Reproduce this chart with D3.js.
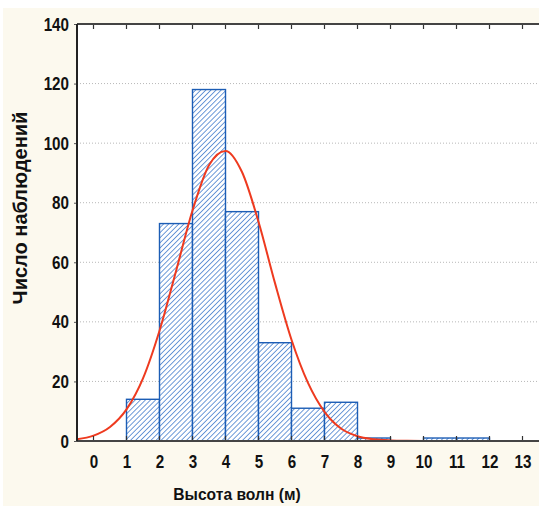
<!DOCTYPE html>
<html>
<head>
<meta charset="utf-8">
<script src="https://cdn.jsdelivr.net/npm/d3@7"></script>
<style>
  body { margin: 0; background: #fff; }
  text { font-family: "Liberation Sans", Arial, sans-serif; font-weight: bold; fill: #111; }
  .tick text { font-family: "Liberation Sans", Arial, sans-serif; font-size: 19px; }
</style>
</head>
<body>
<svg id="chart" width="539" height="506"></svg>
<script>
// bins (lower edge, metres) and counts
var binStart = [1, 2, 3, 4, 5, 6, 7, 8, 9, 10, 11, 12];
var counts   = [14, 73, 118, 77, 33, 11, 13, 1, 0, 1, 1, 0];

// fitted normal curve
var curveX = [-0.5, 0, 0.5, 1, 1.5, 2, 2.5, 3, 3.5, 4, 4.5, 5, 5.5, 6, 6.5, 7, 7.5, 8, 8.5, 9, 9.5, 10, 11, 12, 13, 13.5];
var curveY = [0.6, 1.8, 4.7, 10.6, 21, 37, 57, 77.4, 92.6, 97.4, 90.3, 73.6, 53, 34, 19.5, 9.8, 4.2, 1.6, 0.6, 0.2, 0.05, 0, 0, 0, 0, 0];

var xTicks = [0, 1, 2, 3, 4, 5, 6, 7, 8, 9, 10, 11, 12, 13];
var yTicks = [0, 20, 40, 60, 80, 100, 120, 140];

var svg = d3.select("#chart");

var pLeft = 77, pRight = 539, pTop = 24, pBottom = 441;

var x = d3.scaleLinear().domain([-0.5, 13.5]).range([pLeft, pRight]);
var y = d3.scaleLinear().domain([0, 140]).range([pBottom, pTop]);

// backgrounds
svg.append("rect").attr("x", 3).attr("y", 8).attr("width", 536).attr("height", 498).attr("fill", "#fcf9ee");
svg.append("rect").attr("x", pLeft).attr("y", pTop).attr("width", pRight - pLeft).attr("height", pBottom - pTop).attr("fill", "#fff");

// hatch pattern
var defs = svg.append("defs");
var pat = defs.append("pattern")
    .attr("id", "hatch")
    .attr("patternUnits", "userSpaceOnUse")
    .attr("width", 3.6).attr("height", 3.6)
    .attr("patternTransform", "rotate(45)");
pat.append("rect").attr("width", 3.6).attr("height", 3.6).attr("fill", "#fff");
pat.append("line").attr("x1", 0).attr("y1", 0).attr("x2", 0).attr("y2", 3.6)
    .attr("stroke", "#4a82cf").attr("stroke-width", 1.6);

// grid lines
svg.append("g").selectAll("line")
    .data(yTicks.filter(function(d) { return d > 0 && d < 140; }))
    .enter().append("line")
    .attr("x1", pLeft).attr("x2", pRight)
    .attr("y1", function(d) { return y(d); })
    .attr("y2", function(d) { return y(d); })
    .attr("stroke", "#b8b8b8")
    .attr("stroke-dasharray", "1,2");

// bars
svg.append("g").selectAll("rect")
    .data(binStart.map(function(s, i) { return { s: s, v: counts[i] }; }).filter(function(d) { return d.v > 0; }))
    .enter().append("rect")
    .attr("x", function(d) { return x(d.s); })
    .attr("y", function(d) { return y(d.v); })
    .attr("width", function(d) { return x(d.s + 1) - x(d.s); })
    .attr("height", function(d) { return y(0) - y(d.v); })
    .attr("fill", "url(#hatch)")
    .attr("stroke", "#1c5db5")
    .attr("stroke-width", 1.4);

// normal curve
var line = d3.line()
    .x(function(d) { return x(d[0]); })
    .y(function(d) { return y(d[1]); })
    .curve(d3.curveMonotoneX);
svg.append("path")
    .datum(curveX.map(function(v, i) { return [v, curveY[i]]; }))
    .attr("d", line)
    .attr("fill", "none")
    .attr("stroke", "#ee3a1f")
    .attr("stroke-width", 2);

// axes
var xAxis = svg.append("g").attr("transform", "translate(0," + pBottom + ")")
    .call(d3.axisBottom(x).tickValues(xTicks).tickSize(0).tickPadding(14).tickFormat(d3.format("d")));
xAxis.select(".domain").remove();
xAxis.selectAll(".tick text").attr("transform", "scale(0.8,1)");

var yAxis = svg.append("g").attr("transform", "translate(" + pLeft + ",0)")
    .call(d3.axisLeft(y).tickValues(yTicks).tickSize(3).tickPadding(5));
yAxis.select(".domain").remove();
yAxis.selectAll(".tick line").attr("stroke", "#555");
yAxis.selectAll(".tick text").attr("x", -10).attr("transform", "scale(0.8,1)");

// inner ticks at bottom and top
svg.append("g").selectAll("line")
    .data(xTicks)
    .enter().append("line")
    .attr("x1", function(d) { return x(d); }).attr("x2", function(d) { return x(d); })
    .attr("y1", pBottom).attr("y2", pBottom - 5)
    .attr("stroke", "#333").attr("stroke-width", 1.2);
svg.append("g").selectAll("line")
    .data(xTicks)
    .enter().append("line")
    .attr("x1", function(d) { return x(d); }).attr("x2", function(d) { return x(d); })
    .attr("y1", pTop).attr("y2", pTop + 5)
    .attr("stroke", "#333").attr("stroke-width", 1.2);

// frame lines
svg.append("line").attr("x1", pLeft).attr("x2", pRight).attr("y1", pBottom).attr("y2", pBottom)
    .attr("stroke", "#444").attr("stroke-width", 2);
svg.append("line").attr("x1", pLeft).attr("x2", pRight).attr("y1", pTop).attr("y2", pTop)
    .attr("stroke", "#444").attr("stroke-width", 2);
svg.append("line").attr("x1", pLeft).attr("x2", pLeft).attr("y1", pTop).attr("y2", pBottom)
    .attr("stroke", "#222").attr("stroke-width", 2);

// axis titles
svg.append("text")
    .attr("transform", "translate(237,500) scale(0.92,1)")
    .attr("text-anchor", "middle")
    .style("font-size", "17px")
    .text("Высота волн (м)");
svg.append("text")
    .attr("transform", "translate(27,208) rotate(-90)")
    .attr("text-anchor", "middle")
    .style("font-size", "20px")
    .text("Число наблюдений");
</script>
</body>
</html>
